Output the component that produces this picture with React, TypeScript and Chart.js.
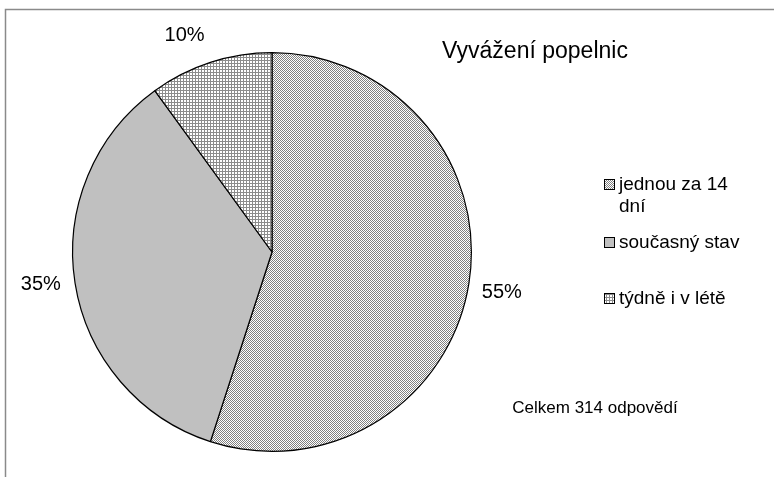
import React, { useEffect, useRef } from "react";
import { Chart, registerables } from "chart.js";

Chart.register(...registerables);

const categories = ["jednou za 14 dní", "současný stav", "týdně i v létě"];
const legendLines = [["jednou za 14", "dní"], ["současný stav"], ["týdně i v létě"]];
const values = [55, 35, 10];
const percentLabels = ["55%", "35%", "10%"];
const chartTitle = "Vyvážení popelnic";
const footnote = "Celkem 314 odpovědí";

const FONT = '"Liberation Sans", Arial, sans-serif';
// label placement tweaks (angle shift in degrees, extra distance beyond radius)
const labelShift = [1, 1, -4];
const labelGap = [34, 34, 34];

function makeChecker(): CanvasPattern | string {
  const c = document.createElement("canvas");
  c.width = 2;
  c.height = 2;
  const g = c.getContext("2d");
  if (!g) return "#ccc";
  g.fillStyle = "#ffffff";
  g.fillRect(0, 0, 2, 2);
  g.fillStyle = "#808080";
  g.fillRect(0, 0, 1, 1);
  g.fillRect(1, 1, 1, 1);
  const p = g.createPattern(c, "repeat");
  return p || "#ccc";
}

function makeGrid(): CanvasPattern | string {
  const c = document.createElement("canvas");
  c.width = 3;
  c.height = 3;
  const g = c.getContext("2d");
  if (!g) return "#ddd";
  g.fillStyle = "#ffffff";
  g.fillRect(0, 0, 3, 3);
  g.fillStyle = "#8c8c8c";
  g.fillRect(0, 0, 3, 1);
  g.fillRect(0, 0, 1, 3);
  const p = g.createPattern(c, "repeat");
  return p || "#ddd";
}

export default function App() {
  const ref = useRef<HTMLCanvasElement | null>(null);

  useEffect(() => {
    document.body.style.margin = "0";
    const canvas = ref.current;
    if (!canvas) return;
    const fills = [makeChecker(), "#c0c0c0", makeGrid()];

    const decor = {
      id: "decor",
      beforeDraw(chart: any) {
        const ctx = chart.ctx;
        ctx.save();
        ctx.fillStyle = "#ffffff";
        ctx.fillRect(0, 0, chart.width, chart.height);
        ctx.strokeStyle = "#8a8a8a";
        ctx.lineWidth = 1.5;
        ctx.strokeRect(5.5, 9.5, chart.width + 20, chart.height + 20);
        ctx.restore();
      },
      afterDraw(chart: any) {
        const ctx = chart.ctx;
        const meta = chart.getDatasetMeta(0);
        ctx.save();
        ctx.fillStyle = "#000000";
        ctx.textBaseline = "middle";
        ctx.textAlign = "center";
        ctx.font = `20px ${FONT}`;
        meta.data.forEach((arc: any, i: number) => {
          const p = arc.getProps(["x", "y", "startAngle", "endAngle", "outerRadius"], true);
          const mid = (p.startAngle + p.endAngle) / 2 + (labelShift[i] * Math.PI) / 180;
          const d = p.outerRadius + labelGap[i];
          ctx.fillText(percentLabels[i], p.x + Math.cos(mid) * d, p.y + Math.sin(mid) * d);
        });

        const area = chart.chartArea;
        // title
        ctx.font = `23px ${FONT}`;
        ctx.fillText(chartTitle, area.right + 63, 52);

        // legend
        ctx.textAlign = "left";
        ctx.font = `19px ${FONT}`;
        const rowY = [185, 243, 299];
        const sqX = area.right + 132;
        legendLines.forEach((lines, i) => {
          const y = rowY[i];
          ctx.fillStyle = fills[i] as any;
          ctx.fillRect(sqX, y - 5, 10, 10);
          ctx.strokeStyle = "#000";
          ctx.lineWidth = 1;
          ctx.strokeRect(sqX + 0.5, y - 5.5, 10, 10);
          ctx.fillStyle = "#000";
          lines.forEach((t, k) => ctx.fillText(t, sqX + 15, y + k * 22));
        });

        // footnote
        ctx.textAlign = "center";
        ctx.font = `17px ${FONT}`;
        ctx.fillText(footnote, area.right + 123, 408);
        ctx.restore();
      },
    };

    const chart = new Chart(canvas, {
      type: "pie",
      data: {
        labels: categories,
        datasets: [
          {
            data: values,
            backgroundColor: fills as any,
            borderColor: "#000000",
            borderWidth: 1.2,
          },
        ],
      },
      options: {
        responsive: false,
        animation: false,
        layout: { padding: { left: 72, right: 302, top: 52, bottom: 25 } },
        plugins: {
          legend: { display: false },
          tooltip: { enabled: false },
          title: { display: false },
        },
      },
      plugins: [decor],
    });
    return () => chart.destroy();
  }, []);

  return <canvas ref={ref} width={774} height={477} style={{ display: "block" }} />;
}
